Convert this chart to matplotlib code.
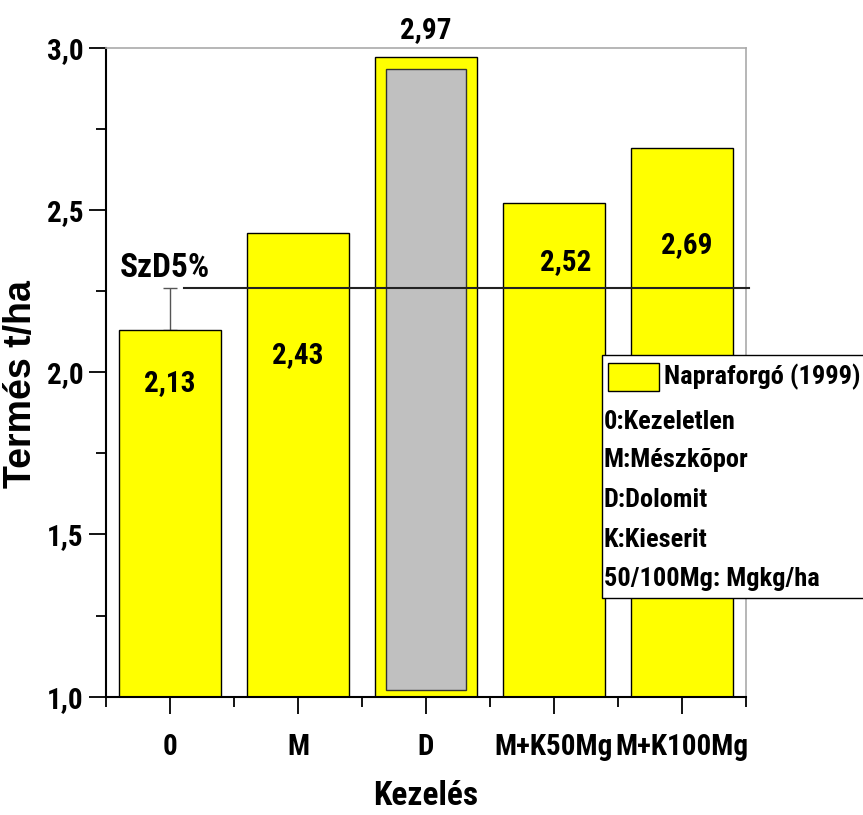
import numpy as np
import matplotlib
matplotlib.use('Agg')
import matplotlib.pyplot as plt
from matplotlib.patches import Rectangle
from matplotlib.ticker import FuncFormatter, MultipleLocator, FixedLocator

# data
categories = ['0', 'M', 'D', 'M+K50Mg', 'M+K100Mg']
yields = [2.13, 2.43, 2.97, 2.52, 2.69]
value_labels = ['2,13', '2,43', '2,97', '2,52', '2,69']
szd5 = 2.26            # SzD5% level
d_inner = (1.02, 2.935)  # grey inner bar of D (bottom, top)
legend_lines = ['0:Kezeletlen', 'M:Mészkõpor', 'D:Dolomit', 'K:Kieserit',
                '50/100Mg: Mgkg/ha']

narrow = ['Roboto Condensed', 'Liberation Sans Narrow', 'Barlow Semi Condensed', 'DejaVu Sans']
wide = ['Liberation Sans', 'DejaVu Sans']

fig = plt.figure(figsize=(8.63, 8.15), dpi=100)
ax = fig.add_axes([0.1228, 0.1452, 0.7416, 0.7963])

x = np.arange(len(categories)) + 0.5
ax.bar(x, yields, width=0.8, color='#FFFF00', edgecolor='black', linewidth=1.0, zorder=2)

# grey inner bar inside D
ax.add_patch(Rectangle((x[2] - 0.31, d_inner[0]), 0.62, d_inner[1] - d_inner[0],
                       facecolor='#C0C0C0', edgecolor='#333333', linewidth=1.0, zorder=3))

# SzD5% error bar and line
ax.errorbar([x[0]], [yields[0]], yerr=[[0], [szd5 - yields[0]]], fmt='none',
            ecolor='#555555', elinewidth=1.0, capsize=5, capthick=1.0, zorder=1)
ax.plot([0.61, 5.02], [szd5, szd5], color='#222222', linewidth=1.5, clip_on=False, zorder=4)
ax.text(0.46, 2.32, 'SzD5%', family=narrow, fontweight='bold', fontsize=24,
        ha='center', va='center')

# value labels
label_x = [0.5, 1.5, 2.5, 3.59, 4.54]
label_y = [1.967, 2.053, 3.055, 2.34, 2.392]
for lx, ly, t in zip(label_x, label_y, value_labels):
    ax.text(lx, ly, t, family=narrow, fontweight='bold', fontsize=21,
            ha='center', va='center', zorder=5, clip_on=False)

ax.set_xlim(0, 5)
ax.set_ylim(1.0, 3.0)
ax.xaxis.set_major_locator(FixedLocator(x))
ax.xaxis.set_minor_locator(MultipleLocator(1))
ax.set_xticklabels(categories)
ax.yaxis.set_major_locator(MultipleLocator(0.5))
ax.yaxis.set_minor_locator(MultipleLocator(0.25))
ax.yaxis.set_major_formatter(FuncFormatter(lambda v, p: f'{v:.1f}'.replace('.', ',')))

ax.tick_params(axis='both', which='major', length=12, width=1.3, direction='out')
ax.tick_params(axis='both', which='minor', length=7, width=1.3, direction='out')
ax.tick_params(axis='x', pad=14)
ax.tick_params(axis='y', pad=4)
for lab in ax.get_xticklabels() + ax.get_yticklabels():
    lab.set_family(narrow)
    lab.set_fontweight('bold')
    lab.set_fontsize(21)

for s in ['left', 'bottom']:
    ax.spines[s].set_linewidth(1.5)
    ax.spines[s].set_color('black')
for s in ['top', 'right']:
    ax.spines[s].set_linewidth(1.2)
    ax.spines[s].set_color('#AAAAAA')

ax.set_ylabel('Termés t/ha', family=wide, fontweight='bold', fontsize=27)
ax.yaxis.set_label_coords(-0.104, 0.482)
ax.set_xlabel('Kezelés', family=narrow, fontweight='bold', fontsize=24)
ax.xaxis.set_label_coords(0.5, -0.128)

# legend box (runs off the right edge)
box = Rectangle((0.775, 0.152), 0.45, 0.3745, transform=ax.transAxes, facecolor='white',
                edgecolor='black', linewidth=1.0, clip_on=False, zorder=6)
ax.add_patch(box)
ax.add_patch(Rectangle((0.784, 0.471), 0.08, 0.043, transform=ax.transAxes,
                       facecolor='#FFFF00', edgecolor='black', linewidth=1.0,
                       clip_on=False, zorder=7))
ax.text(0.872, 0.4935, 'Napraforgó (1999)', transform=ax.transAxes, family=narrow,
        fontweight='bold', fontsize=19, ha='left', va='center', zorder=7)
row_y = [0.4235, 0.365, 0.3035, 0.242, 0.1815]
for ry, t in zip(row_y, legend_lines):
    ax.text(0.778, ry, t, transform=ax.transAxes, family=narrow,
            fontweight='bold', fontsize=19, ha='left', va='center', zorder=7)

fig.savefig('out.png', dpi=100)
